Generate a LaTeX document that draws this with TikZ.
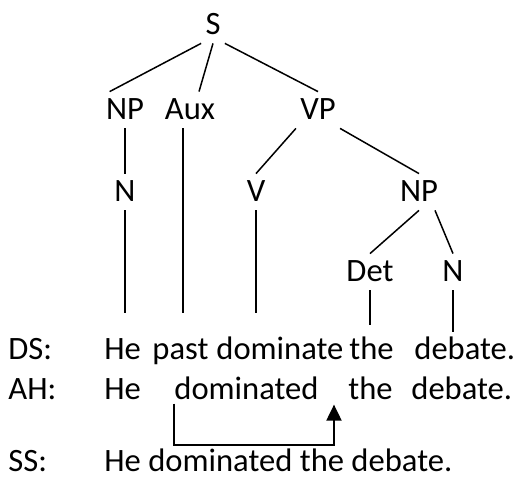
\documentclass[tikz,border=0pt]{standalone}
\usepackage{fontspec}
\setmainfont{Carlito}
\usetikzlibrary{arrows.meta}

\begin{document}
\begin{tikzpicture}[x=0.5pt,y=0.5pt,
  cat/.style={font=\fontsize{16.3pt}{19pt}\selectfont,anchor=base,inner xsep=2pt,inner ysep=4pt,text height=10pt,text depth=0pt},
  word/.style={font=\fontsize{16.3pt}{19pt}\selectfont,anchor=base west,inner sep=0pt},
  branch/.style={line width=0.75pt}]
  \useasboundingbox (0,0) rectangle (516,481);
  % \draw[thin,gray!40] (0,0) grid[step=20] (516,481);
  \node[cat] (S) at (213,446) {S};
  \node[cat] (np) at (125,361) {NP};
  \node[cat] (aux) at (190,361) {Aux};
  \node[cat] (vp) at (318,361) {VP};
  \node[cat] (n1) at (125,279) {N};
  \node[cat] (v) at (256,279) {V};
  \node[cat] (np2) at (419,279) {NP};
  \node[cat] (det) at (370,199) {Det};
  \node[cat] (n2) at (453,199) {N};

  \node[word] (dslbl) at (8,121) {DS:};
  \node[word] (dshe) at (104,121) {He};
  \node[word] (dspast) at (152,121) {past};
  \node[word] (dsdom) at (216,121) {dominate};
  \node[word] (dsthe) at (349,121) {the};
  \node[word] (dsdeb) at (414,121) {debate.};

  \node[word] (ahlbl) at (8,81) {AH:};
  \node[word] (ahhe) at (104,81) {He};
  \node[word] (ahdom) at (174,81) {dominated};
  \node[word] (ahthe) at (348,81) {the};
  \node[word] (ahdeb) at (411,81) {debate.};

  \node[word] (sslbl) at (8,9) {SS:};
  \node[word] (ss) at (104,9) {He dominated the debate.};

  \draw[branch] (S.south west) -- ([xshift=4pt]np.north west);
  \draw[branch] (S.south) -- ([xshift=4.5pt]aux.north);
  \draw[branch] (S.south east) -- (vp.north);
  \draw[branch] (np.south) -- (n1.north);
  \draw[branch] (vp.south west) -- (v.north);
  \draw[branch] (vp.south east) -- (np2.north);
  \draw[branch] (np2.south) -- (det.north);
  \draw[branch] ([xshift=8pt]np2.south) -- (n2.north);
  % down to the DS words
  \draw[branch] (n1.south) -- ([yshift=13pt]n1.south |- dshe.north);
  \draw[branch] ([xshift=-3.5pt]aux.south) -- ([xshift=-3.5pt,yshift=13pt]aux.south |- dshe.north);
  \draw[branch] (v.south) -- ([yshift=13pt]v.south |- dshe.north);
  \draw[branch] (det.south) -- ([yshift=7pt]det.south |- dshe.north);
  \draw[branch] (n2.south) -- ([yshift=3.5pt]n2.south |- dshe.north);

  \draw[line width=1pt,-{Triangle[width=7.5pt,length=8pt]}] ([yshift=-1.5pt]ahdom.south west) -- ++(0,-41) -| ([xshift=7.5pt,yshift=-2pt]ahdom.south east);
\end{tikzpicture}
\end{document}
